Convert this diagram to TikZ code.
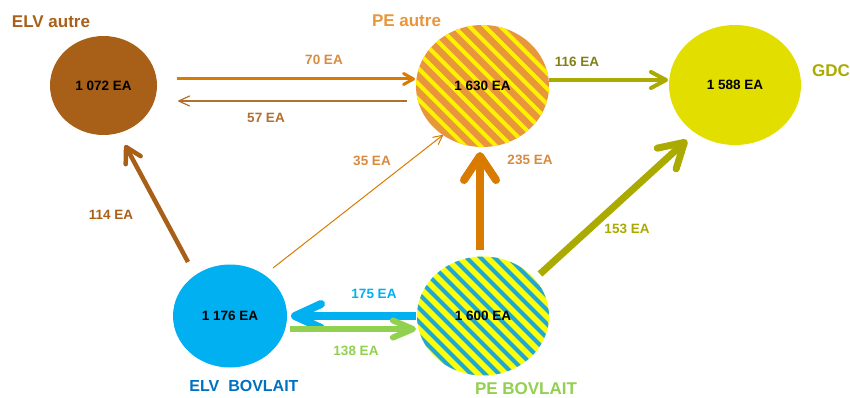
\documentclass[tikz,border=0pt]{standalone}
\usepackage{fontspec}
\setmainfont{Liberation Sans}
\usetikzlibrary{arrows.meta,shapes.geometric,calc}
\definecolor{brunELV}{RGB}{168,96,24}
\definecolor{orangePE}{RGB}{232,150,60}
\definecolor{jaunePE}{RGB}{255,242,0}
\definecolor{jauneGDC}{RGB}{226,222,0}
\definecolor{cyanELV}{RGB}{0,176,240}
\definecolor{cyanPE}{RGB}{28,168,221}
\definecolor{jauneBOV}{RGB}{255,255,0}
\definecolor{bleuTitre}{RGB}{0,112,192}
\definecolor{vertPE}{RGB}{146,208,80}
\definecolor{orangeF}{RGB}{217,123,0}
\definecolor{brunF}{RGB}{176,112,48}
\definecolor{oliveF}{RGB}{170,170,0}
\definecolor{oliveT}{RGB}{128,128,20}
\definecolor{orangeT}{RGB}{216,138,64}
\tikzset{
  noeud/.style={ellipse,inner sep=0pt,font=\fontsize{13.5}{16}\selectfont\bfseries},
  titre/.style={font=\fontsize{17}{20}\selectfont\bfseries},
  valeur/.style={font=\fontsize{13.5}{16}\selectfont\bfseries},
  rayures/.style n args={3}{fill=#1,path picture={
    \foreach \k in {-14,...,14}
      \draw[#2,line width=4pt] ([xshift=\k*#3]path picture bounding box.center) ++(-100pt,100pt) -- ++(200pt,-200pt);}},
  pointe/.style 2 args={-{Straight Barb[length=#1,width=#2,round]}}
}
\begin{document}
\begin{tikzpicture}[x=1pt,y=-1pt]
  \useasboundingbox (0,0) rectangle (850,398);
  \node (elvA) at (103.5,85.5) [noeud,fill=brunELV,minimum width=107pt,minimum height=99pt] {1 072 EA};
  \node (peA) at (482.5,86) [noeud,rayures={orangePE}{jaunePE}{15.5pt},minimum width=133pt,minimum height=122pt] {1 630 EA};
  \node (gdc) at (735,85) [noeud,fill=jauneGDC,minimum width=132pt,minimum height=120pt] {1 588 EA};
  \node (elvB) at (230,316) [noeud,fill=cyanELV,minimum width=114pt,minimum height=103pt] {1 176 EA};
  \node (peB) at (483,316) [noeud,rayures={jauneBOV}{cyanPE}{14pt},minimum width=132pt,minimum height=119pt] {1 600 EA};

  \node (tElvA) at (51,22) [titre,text=brunELV] {ELV autre};
  \node (tPeA) at (406.5,21) [titre,text=orangePE] {PE autre};
  \node (tGdc) at (831,71) [titre,text=oliveF] {GDC};
  \node (tElvB) at (244,386) [titre,text=bleuTitre,font=\fontsize{16}{19}\selectfont\bfseries] {ELV\ \ BOVLAIT};
  \node (tPeB) at (526,388.5) [titre,text=vertPE] {PE BOVLAIT};

  \draw[orangeF,line width=3pt,pointe={10pt}{11pt}] ($(elvA)+(73.5,-6.5)$) -- ($(peA)+(-67.5,-7)$);
  \draw[brunF,line width=1.2pt,pointe={11pt}{10pt}] ($(peA)+(-75.5,15)$) -- ($(elvA)+(74.5,15.5)$);
  \draw[oliveF,line width=4pt,pointe={15pt}{16pt}] ($(peA)+(66.5,-6)$) -- ($(gdc)+(-67,-5)$);
  \draw[brunELV,line width=4.5pt,pointe={15pt}{17pt}] ($(elvB)+(-42,-54)$) -- ($(elvA)+(21.5,59.5)$);
  \draw[orangeF,line width=1pt,pointe={9pt}{9pt}] ($(elvB)+(43,-48)$) -- ($(peA)+(-39.5,49)$);
  \draw[orangeF,line width=8pt,pointe={24pt}{32pt}] ($(peB)+(-3,-66)$) -- ($(peA)+(-2.5,66)$);
  \draw[oliveF,line width=7pt,pointe={24pt}{28pt}] ($(peB)+(57,-42)$) -- ($(gdc)+(-48,55)$);
  \draw[cyanELV,line width=8pt,pointe={26pt}{24pt}] ($(peB)+(-67,0)$) -- ($(elvB)+(61,0)$);
  \draw[vertPE,line width=6pt,pointe={20pt}{17pt}] ($(elvB)+(60,13)$) -- ($(peB)+(-67,13)$);

  \node (v70) at (324,60) [valeur,text=orangeT] {70 EA};
  \node (v57) at (266,118) [valeur,text=brunF] {57 EA};
  \node (v116) at (577,62) [valeur,text=oliveT] {116 EA};
  \node (v114) at (111,214.5) [valeur,text=brunELV] {114 EA};
  \node (v35) at (372,161) [valeur,text=orangeT] {35 EA};
  \node (v235) at (530,159.5) [valeur,text=orangeT] {235 EA};
  \node (v153) at (627,228.5) [valeur,text=oliveF] {153 EA};
  \node (v175) at (374,294) [valeur,text=cyanELV] {175 EA};
  \node (v138) at (356,351) [valeur,text=vertPE] {138 EA};
\end{tikzpicture}
\end{document}
